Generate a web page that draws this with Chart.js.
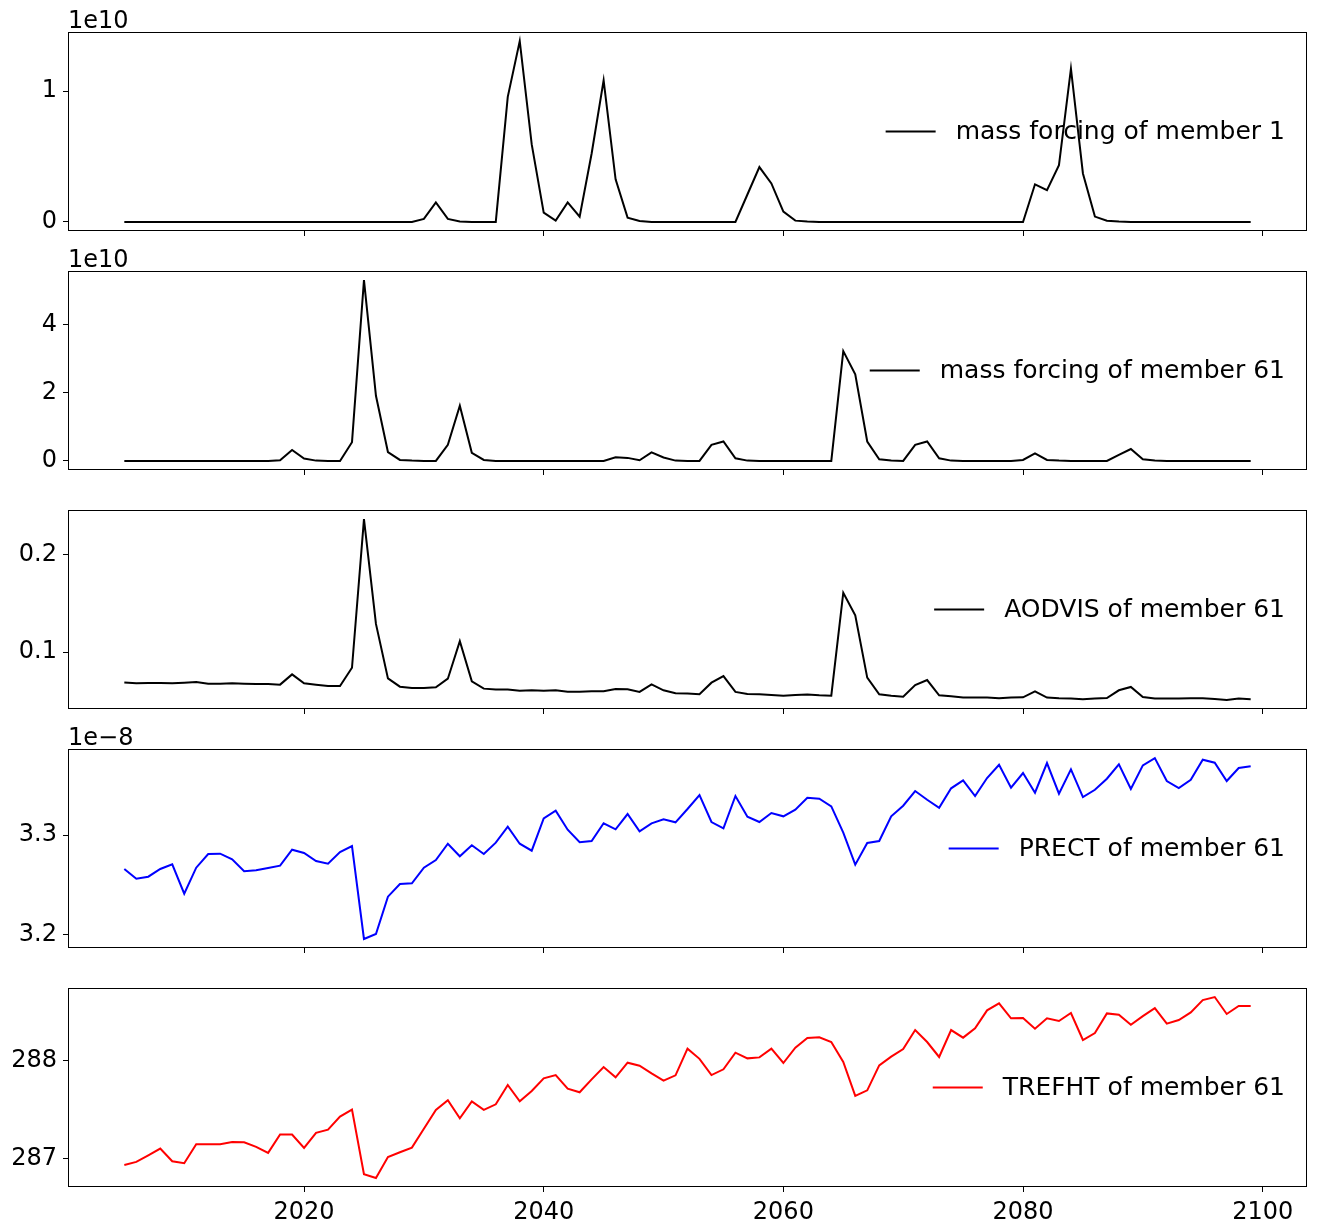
<!DOCTYPE html>
<html>
<head>
<meta charset="utf-8">
<script src="https://cdn.jsdelivr.net/npm/chart.js@4.4.0/dist/chart.umd.min.js"></script>
<style>
  body { margin: 0; background: #fff; }
  #wrap { position: relative; width: 1317px; height: 1231px; background: #fff; }
  canvas { position: absolute; left: 0; }
</style>
</head>
<body>
<div id="wrap"></div>
<script>
// annual values, 2005..2099
const years = [
  2005, 2006, 2007, 2008, 2009, 2010, 2011, 2012, 2013, 2014,
  2015, 2016, 2017, 2018, 2019, 2020, 2021, 2022, 2023, 2024,
  2025, 2026, 2027, 2028, 2029, 2030, 2031, 2032, 2033, 2034,
  2035, 2036, 2037, 2038, 2039, 2040, 2041, 2042, 2043, 2044,
  2045, 2046, 2047, 2048, 2049, 2050, 2051, 2052, 2053, 2054,
  2055, 2056, 2057, 2058, 2059, 2060, 2061, 2062, 2063, 2064,
  2065, 2066, 2067, 2068, 2069, 2070, 2071, 2072, 2073, 2074,
  2075, 2076, 2077, 2078, 2079, 2080, 2081, 2082, 2083, 2084,
  2085, 2086, 2087, 2088, 2089, 2090, 2091, 2092, 2093, 2094,
  2095, 2096, 2097, 2098, 2099
];

// mass forcing, member 1 (units of 1e10)
const massForcing1 = [
  0, 0, 0, 0, 0, 0, 0, 0, 0, 0,
  0, 0, 0, 0, 0, 0, 0, 0, 0, 0,
  0, 0, 0, 0, 0, 0.023, 0.150, 0.023, 0.003, 0,
  0, 0, 0.957, 1.384, 0.593, 0.071, 0.010, 0.150, 0.040, 0.524,
  1.084, 0.326, 0.033, 0.008, 0, 0, 0, 0, 0, 0,
  0, 0, 0.210, 0.420, 0.295, 0.079, 0.010, 0.003, 0, 0,
  0, 0, 0, 0, 0, 0, 0, 0, 0, 0,
  0, 0, 0, 0, 0, 0, 0.288, 0.244, 0.435, 1.173,
  0.371, 0.041, 0.010, 0.003, 0, 0, 0, 0, 0, 0,
  0, 0, 0, 0, 0
];

// mass forcing, member 61 (units of 1e10)
const massForcing61 = [
  0, 0, 0, 0, 0, 0, 0, 0, 0, 0,
  0, 0, 0, 0.02, 0.32, 0.07, 0.01, 0, 0, 0.55,
  5.30, 1.91, 0.26, 0.03, 0.01, 0, 0, 0.47, 1.62, 0.24,
  0.03, 0, 0, 0, 0, 0, 0, 0, 0, 0,
  0, 0.11, 0.09, 0.02, 0.25, 0.10, 0.01, 0, 0, 0.47,
  0.57, 0.08, 0.01, 0, 0, 0, 0, 0, 0, 0,
  3.22, 2.54, 0.57, 0.05, 0.01, 0, 0.47, 0.57, 0.08, 0.01,
  0, 0, 0, 0, 0, 0.03, 0.22, 0.03, 0.01, 0,
  0, 0, 0, 0.18, 0.35, 0.05, 0.01, 0, 0, 0,
  0, 0, 0, 0, 0
];

// AODVIS, member 61
const aodvis61 = [
  0.0690, 0.0680, 0.0684, 0.0684, 0.0680, 0.0687, 0.0694, 0.0677, 0.0677, 0.0680,
  0.0677, 0.0673, 0.0673, 0.0667, 0.0772, 0.0680, 0.0667, 0.0653, 0.0653, 0.0840,
  0.2364, 0.1289, 0.0731, 0.0646, 0.0633, 0.0633, 0.0640, 0.0728, 0.1112, 0.0701,
  0.0626, 0.0616, 0.0616, 0.0605, 0.0609, 0.0605, 0.0609, 0.0595, 0.0595, 0.0599,
  0.0599, 0.0622, 0.0619, 0.0592, 0.0670, 0.0609, 0.0578, 0.0576, 0.0568, 0.0687,
  0.0755, 0.0592, 0.0571, 0.0568, 0.0561, 0.0554, 0.0561, 0.0565, 0.0558, 0.0554,
  0.1609, 0.1378, 0.0738, 0.0568, 0.0554, 0.0544, 0.0663, 0.0714, 0.0558, 0.0548,
  0.0534, 0.0534, 0.0534, 0.0527, 0.0534, 0.0537, 0.0599, 0.0534, 0.0527, 0.0524,
  0.0517, 0.0524, 0.0530, 0.0609, 0.0643, 0.0541, 0.0524, 0.0524, 0.0524, 0.0527,
  0.0527, 0.0520, 0.0510, 0.0524, 0.0517
];

// PRECT, member 61 (units of 1e-8)
const prect61 = [
  3.2660, 3.2563, 3.2583, 3.2660, 3.2707, 3.2413, 3.2673, 3.2810, 3.2813, 3.2757,
  3.2637, 3.2647, 3.2670, 3.2693, 3.2853, 3.2820, 3.2740, 3.2713, 3.2830, 3.2890,
  3.1960, 3.2010, 3.2383, 3.2510, 3.2517, 3.2673, 3.2750, 3.2913, 3.2787, 3.2897,
  3.2810, 3.2923, 3.3083, 3.2913, 3.2843, 3.3167, 3.3243, 3.3053, 3.2927, 3.2940,
  3.3117, 3.3057, 3.3210, 3.3037, 3.3117, 3.3157, 3.3127, 3.3260, 3.3400, 3.3130,
  3.3067, 3.3390, 3.3183, 3.3130, 3.3220, 3.3187, 3.3253, 3.3373, 3.3363, 3.3287,
  3.3023, 3.2703, 3.2920, 3.2940, 3.3187, 3.3293, 3.3440, 3.3353, 3.3273, 3.3467,
  3.3547, 3.3390, 3.3570, 3.3703, 3.3473, 3.3620, 3.3423, 3.3720, 3.3413, 3.3657,
  3.3380, 3.3453, 3.3563, 3.3707, 3.3460, 3.3697, 3.3770, 3.3540, 3.3470, 3.3553,
  3.3753, 3.3723, 3.3540, 3.3670, 3.3687
];

// TREFHT, member 61
const trefht61 = [
  286.939, 286.970, 287.037, 287.105, 286.976, 286.956, 287.149, 287.149, 287.149, 287.172,
  287.169, 287.122, 287.061, 287.247, 287.247, 287.111, 287.264, 287.297, 287.429, 287.500,
  286.845, 286.807, 287.020, 287.068, 287.115, 287.307, 287.497, 287.595, 287.412, 287.584,
  287.497, 287.554, 287.750, 287.584, 287.689, 287.818, 287.851, 287.713, 287.676, 287.807,
  287.932, 287.828, 287.976, 287.946, 287.868, 287.794, 287.848, 288.118, 288.015, 287.851,
  287.909, 288.078, 288.020, 288.030, 288.118, 287.973, 288.128, 288.226, 288.233, 288.186,
  287.983, 287.639, 287.696, 287.949, 288.037, 288.115, 288.307, 288.186, 288.034, 288.307,
  288.230, 288.324, 288.507, 288.578, 288.426, 288.429, 288.321, 288.426, 288.399, 288.480,
  288.206, 288.277, 288.476, 288.463, 288.361, 288.449, 288.530, 288.372, 288.409, 288.486,
  288.611, 288.642, 288.470, 288.551, 288.551
];

const xTicks = [2020, 2040, 2060, 2080, 2100];
const yTicks1 = [0, 1];
const yTicks2 = [0, 2, 4];
const yTicks3 = [0.1, 0.2];
const yTicks4 = [3.2, 3.3];
const yTicks5 = [287, 288];

const FONT = "'DejaVu Sans', sans-serif";
Chart.defaults.font.family = FONT;
Chart.defaults.font.size = 24;
Chart.defaults.color = '#000';

// box, offset text and legend drawn like matplotlib
const axesDeco = {
  id: 'axesDeco',
  afterDatasetsDraw(chart, args, o) {
    const ctx = chart.ctx, a = chart.chartArea;
    ctx.save();
    ctx.strokeStyle = '#000';
    ctx.lineWidth = 1;
    ctx.strokeRect(Math.round(a.left) + 0.5, Math.round(a.top) + 0.5,
                   Math.round(a.right - a.left) - 1, Math.round(a.bottom - a.top) - 1);

    ctx.fillStyle = '#000';
    if (o.offset) {
      ctx.font = '24px ' + FONT;
      ctx.textAlign = 'left';
      ctx.textBaseline = 'alphabetic';
      ctx.fillText(o.offset, a.left, a.top - 4);
    }
    ctx.font = '25px ' + FONT;
    const tw = ctx.measureText(o.label).width;
    const tx = a.right - 22 - tw;
    const cy = (a.top + a.bottom) / 2;
    ctx.strokeStyle = o.color;
    ctx.lineWidth = 2;
    ctx.beginPath();
    ctx.moveTo(tx - 20 - 50, cy);
    ctx.lineTo(tx - 20, cy);
    ctx.stroke();
    ctx.textBaseline = 'middle';
    ctx.fillText(o.label, tx, cy + 1);
    ctx.restore();
  }
};

function padRange(vals) {
  const lo = Math.min(...vals), hi = Math.max(...vals);
  const m = (hi - lo) * 0.05;
  return [lo - m, hi + m];
}

const PLOT_H = 199;
const TOP_PAD = 32;

function makePanel(i, values, color, label, offset, yTicks, showX) {
  const plotTop = 32 + 239 * i;
  const h = showX ? 1231 - (plotTop - TOP_PAD) : 239;
  const cv = document.createElement('canvas');
  cv.width = 1317; cv.height = h;
  cv.style.width = '1317px'; cv.style.height = h + 'px';
  cv.style.top = (plotTop - TOP_PAD) + 'px';
  document.getElementById('wrap').appendChild(cv);

  const [ymin, ymax] = padRange(values);
  const [xmin, xmax] = padRange(years);

  return new Chart(cv, {
    type: 'line',
    data: {
      datasets: [{
        label: label,
        data: years.map((y, k) => ({ x: y, y: values[k] })),
        borderColor: color,
        backgroundColor: color,
        borderWidth: 2,
        pointRadius: 0,
        tension: 0,
        fill: false
      }]
    },
    options: {
      responsive: false,
      animation: false,
      layout: { padding: { top: TOP_PAD, right: 10, left: 0, bottom: 0 } },
      plugins: {
        legend: { display: false },
        tooltip: { enabled: false },
        axesDeco: { label: label, color: color, offset: offset }
      },
      scales: {
        x: {
          type: 'linear',
          min: xmin, max: xmax,
          border: { display: false },
          grid: { drawOnChartArea: false, drawTicks: true, tickLength: 5, color: '#000', lineWidth: 1 },
          afterBuildTicks: s => { s.ticks = xTicks.map(v => ({ value: v })); },
          afterFit: s => {
            s.height = h - TOP_PAD - PLOT_H;
            s.paddingLeft = 0; s.paddingRight = 0;
          },
          ticks: {
            padding: 6,
            maxRotation: 0,
            autoSkip: false,
            callback: v => showX ? String(v) : ''
          }
        },
        y: {
          min: ymin, max: ymax,
          border: { display: false },
          grid: { drawOnChartArea: false, drawTicks: true, tickLength: 5, color: '#000', lineWidth: 1 },
          afterBuildTicks: s => { s.ticks = yTicks.map(v => ({ value: v })); },
          afterFit: s => {
            s.width = 68;
            s.paddingTop = 0; s.paddingBottom = 0;
          },
          ticks: {
            padding: 6,
            autoSkip: false,
            callback: v => String(Math.round(v * 1000) / 1000)
          }
        }
      }
    },
    plugins: [axesDeco]
  });
}

makePanel(0, massForcing1, '#000000', 'mass forcing of member 1', '1e10', yTicks1, false);
makePanel(1, massForcing61, '#000000', 'mass forcing of member 61', '1e10', yTicks2, false);
makePanel(2, aodvis61, '#000000', 'AODVIS of member 61', '', yTicks3, false);
makePanel(3, prect61, '#0000ff', 'PRECT of member 61', '1e\u22128', yTicks4, false);
makePanel(4, trefht61, '#ff0000', 'TREFHT of member 61', '', yTicks5, true);
</script>
</body>
</html>
